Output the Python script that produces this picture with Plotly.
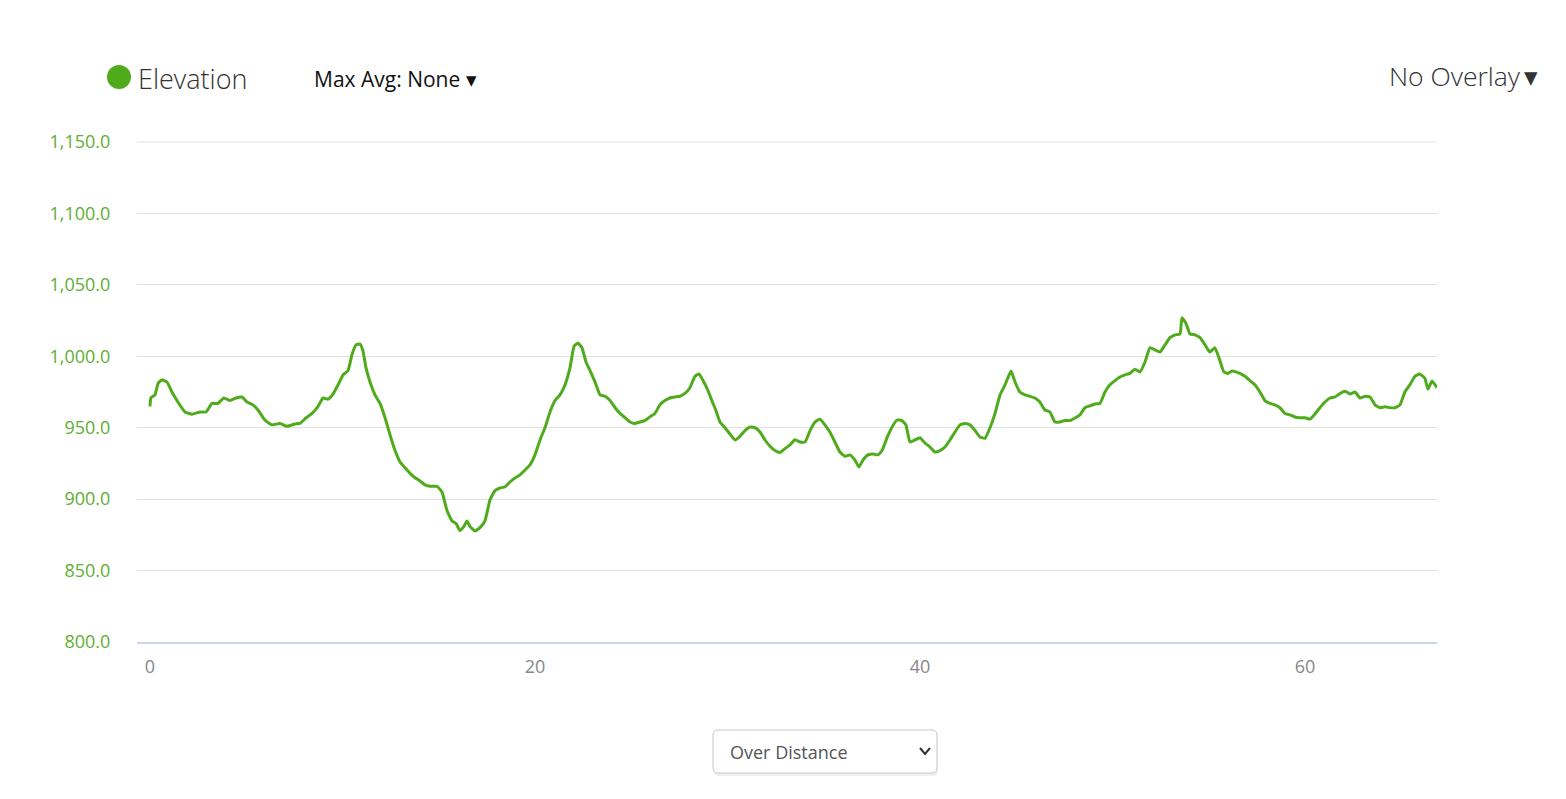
import plotly.graph_objects as go

distance_km = [0.00, 0.05, 0.26, 0.42, 0.62, 0.88, 1.14, 1.45, 1.82, 2.18, 2.60, 2.91, 3.22, 3.53, 3.84,
               4.16, 4.47, 4.78, 5.04, 5.35, 5.61, 5.97, 6.34, 6.75, 7.12, 7.53, 7.79, 8.10, 8.42, 8.73,
               8.99, 9.25, 9.51, 9.77, 10.03, 10.29, 10.49, 10.70, 10.91, 11.06, 11.22, 11.43, 11.69, 11.95,
               12.21, 12.47, 12.73, 12.99, 13.25, 13.51, 13.77, 14.03, 14.29, 14.55, 14.91, 15.17, 15.43,
               15.69, 15.90, 16.10, 16.31, 16.47, 16.62, 16.88, 17.14, 17.40, 17.66, 17.92, 18.18, 18.44,
               18.70, 18.96, 19.22, 19.48, 19.74, 20.00, 20.26, 20.52, 20.78, 21.04, 21.30, 21.56, 21.82,
               22.03, 22.23, 22.44, 22.65, 22.86, 23.12, 23.38, 23.64, 23.90, 24.16, 24.42, 24.68, 24.94,
               25.19, 25.45, 25.71, 25.97, 26.23, 26.49, 26.75, 27.01, 27.27, 27.53, 27.79, 28.05, 28.31,
               28.52, 28.73, 28.99, 29.19, 29.40, 29.61, 29.87, 30.13, 30.39, 30.65, 30.91, 31.17, 31.43,
               31.69, 31.95, 32.21, 32.47, 32.73, 32.99, 33.25, 33.51, 33.77, 34.03, 34.29, 34.55, 34.81,
               35.06, 35.32, 35.58, 35.84, 36.10, 36.36, 36.62, 36.83, 37.04, 37.30, 37.56, 37.82, 38.03,
               38.29, 38.55, 38.81, 39.06, 39.27, 39.48, 39.74, 40.00, 40.26, 40.52, 40.78, 41.04, 41.30,
               41.56, 41.82, 42.08, 42.34, 42.60, 42.86, 43.12, 43.38, 43.64, 43.90, 44.16, 44.42, 44.73,
               44.94, 45.19, 45.45, 45.71, 45.97, 46.23, 46.49, 46.75, 47.01, 47.27, 47.53, 47.79, 48.05,
               48.31, 48.57, 48.83, 49.09, 49.35, 49.61, 49.87, 50.13, 50.39, 50.65, 50.91, 51.17, 51.43,
               51.69, 51.95, 52.21, 52.47, 52.73, 52.99, 53.25, 53.51, 53.61, 53.82, 54.03, 54.29, 54.55,
               54.81, 55.06, 55.32, 55.58, 55.79, 56.00, 56.21, 56.62, 56.88, 57.14, 57.40, 57.66, 57.92,
               58.18, 58.44, 58.70, 58.96, 59.22, 59.48, 59.74, 60.00, 60.26, 60.52, 60.78, 61.04, 61.30,
               61.56, 61.82, 62.08, 62.34, 62.60, 62.86, 63.12, 63.38, 63.64, 63.90, 64.16, 64.42, 64.68,
               64.94, 65.19, 65.45, 65.71, 65.97, 66.23, 66.39, 66.60, 66.86]

elevation_m = [965, 971, 973, 981, 983.5, 982, 975, 968, 961, 959.5, 961, 961, 967, 967, 970.8,
               969, 970.8, 971.5, 968, 966, 962.4, 955.4, 952, 953, 951, 952.6, 953, 956.8, 960, 965,
               970.8, 970, 973.6, 980, 987, 990, 1001, 1008, 1008.6, 1004, 992, 982, 973, 967,
               957, 945, 934, 926, 922, 918, 915, 912.7, 910, 909, 909, 905, 892,
               884.7, 883, 878, 881, 884.7, 881, 877.7, 880, 884.7, 899.4, 906, 907.8, 908.5,
               912, 914.8, 917, 920.4, 924, 931, 941.4, 950, 961, 969, 973, 980, 992,
               1007, 1009.3, 1006, 996, 990, 982, 973, 972, 969, 964, 960, 957, 954,
               953, 954, 955, 957.6, 960, 966, 969, 970.8, 971.5, 972, 974, 978, 986,
               987.6, 983, 976, 969, 962, 954, 950, 945.6, 941.4, 944, 948, 950.5, 950,
               947, 941.4, 937, 934, 932.6, 935.4, 938, 941.6, 940, 940, 948, 954, 956,
               952, 947, 940, 933, 930, 931, 927.4, 922.5, 927.4, 931, 931.6, 931, 934,
               943, 950.5, 955.4, 955, 952, 940, 941.4, 943, 939.3, 936.5, 933, 934, 936.5,
               941.4, 947, 952, 953, 952, 948, 943.5, 942.6, 950, 960, 973, 980, 989.7,
               982, 975, 973, 972, 970.8, 968, 962.4, 961, 954, 954, 955, 955, 956.8,
               959, 964, 965.3, 966.6, 967, 975, 980, 983, 985.5, 987, 988, 991, 989,
               996, 1006, 1004.5, 1003, 1008, 1013, 1015, 1015.6, 1027, 1023, 1015.6, 1015, 1013,
               1008, 1003, 1006, 997, 989, 988, 989.7, 988, 986, 983, 980, 975, 969,
               967, 966, 964, 960, 959, 957.5, 957, 957, 956, 959.6, 964, 968, 970.8,
               971.5, 974, 975.6, 973.6, 975, 970.8, 972, 971.5, 966, 964, 964.6, 964, 964,
               966, 975, 980, 986, 987.6, 984.6, 977, 982.7, 978]

y_ticks = [800, 850, 900, 950, 1000, 1050, 1100, 1150]
x_ticks = [0, 20, 40, 60]

GREEN = "#4fab1c"
GRID = "#e0e0e0"
FONT = "Open Sans"

# page body has an 8px margin; plot area in window: x 137..1437, y 142..642
W, H = 1550, 783
L, T = 129, 134
PW, PH = 1300, 500


def px(xw):
    return (xw - 137) / PW


def py(yw):
    return (642 - yw) / PH


fig = go.Figure()
fig.add_trace(go.Scatter(
    x=distance_km, y=elevation_m, mode="lines",
    line=dict(color=GREEN, width=3, shape="spline", smoothing=0.4),
    hoverinfo="x+y", showlegend=False,
))

fig.update_layout(
    width=W, height=H,
    margin=dict(l=L, r=W - L - PW, t=T, b=H - T - PH),
    paper_bgcolor="white", plot_bgcolor="white",
    font=dict(family=FONT),
    xaxis=dict(
        range=[-0.675, 66.86], tickvals=x_ticks, showgrid=False, zeroline=False,
        showline=True, linecolor="#ccd6eb", linewidth=1.5,
        ticks="outside", ticklen=8, tickcolor="rgba(0,0,0,0)",
        tickfont=dict(family=FONT, size=18, color="#888888"),
    ),
    yaxis=dict(
        range=[800, 1150], tickvals=y_ticks, tickformat=",.1f",
        showgrid=True, gridcolor=GRID, gridwidth=1, zeroline=False,
        ticks="outside", ticklen=22, tickcolor="rgba(0,0,0,0)",
        tickfont=dict(family=FONT, size=18, color="#5fae33"),
    ),
)

# top gridline (plotly skips the grid line that sits on the range edge)
fig.add_shape(type="line", xref="paper", yref="paper", x0=0, x1=1, y0=1, y1=1,
              line=dict(color=GRID, width=1), layer="below")

# legend-like header
fig.add_shape(type="circle", xref="paper", yref="paper",
              x0=px(107), x1=px(131), y0=py(89), y1=py(65),
              fillcolor=GREEN, line=dict(width=0))
fig.add_annotation(xref="paper", yref="paper", x=px(136), y=py(78),
                   text="Elevation", showarrow=False, xanchor="left", yanchor="middle",
                   font=dict(family=FONT, size=27, color="#333333", weight=300))
fig.add_annotation(xref="paper", yref="paper", x=px(312), y=py(79),
                   text="Max Avg: None \u25be", showarrow=False, xanchor="left", yanchor="middle",
                   font=dict(family=FONT, size=21, color="#111111"))
fig.add_annotation(xref="paper", yref="paper", x=px(1540), y=py(76),
                   text="No Overlay\u2009\u25be", showarrow=False, xanchor="right", yanchor="middle",
                   font=dict(family=FONT, size=26.5, color="#333333", weight=300))


def rounded_rect(x0, y0, x1, y1, r):
    return (f"M {x0 + r},{y0} L {x1 - r},{y0} Q {x1},{y0} {x1},{y0 + r} "
            f"L {x1},{y1 - r} Q {x1},{y1} {x1 - r},{y1} L {x0 + r},{y1} "
            f"Q {x0},{y1} {x0},{y1 - r} L {x0},{y0 + r} Q {x0},{y0} {x0 + r},{y0} Z")


def rr_paper(x0w, y0w, x1w, y1w, rw):
    out = []
    for tok in rounded_rect(x0w, y0w, x1w, y1w, rw).split():
        if "," in tok:
            a, b = tok.split(",")
            out.append(f"{px(float(a)):.5f},{py(float(b)):.5f}")
        else:
            out.append(tok)
    return " ".join(out)


# dropdown box (rounded rect with soft shadow)
fig.add_shape(type="path", xref="paper", yref="paper",
              path=rr_paper(714, 732, 938, 776, 5),
              line=dict(color="rgba(0,0,0,0)", width=0), fillcolor="rgba(0,0,0,0.06)")
fig.add_shape(type="path", xref="paper", yref="paper",
              path=rr_paper(713, 730, 937, 773, 5),
              line=dict(color="#c8c8c8", width=1), fillcolor="white")
fig.add_annotation(xref="paper", yref="paper", x=px(728), y=py(752),
                   text="Over Distance", showarrow=False, xanchor="left", yanchor="middle",
                   font=dict(family=FONT, size=18, color="#555555"))
fig.add_shape(type="path", xref="paper", yref="paper",
              path=f"M {px(920):.5f},{py(748):.5f} L {px(925):.5f},{py(754):.5f} L {px(930):.5f},{py(748):.5f}",
              line=dict(color="#333333", width=2))

fig.write_html("out.html")
